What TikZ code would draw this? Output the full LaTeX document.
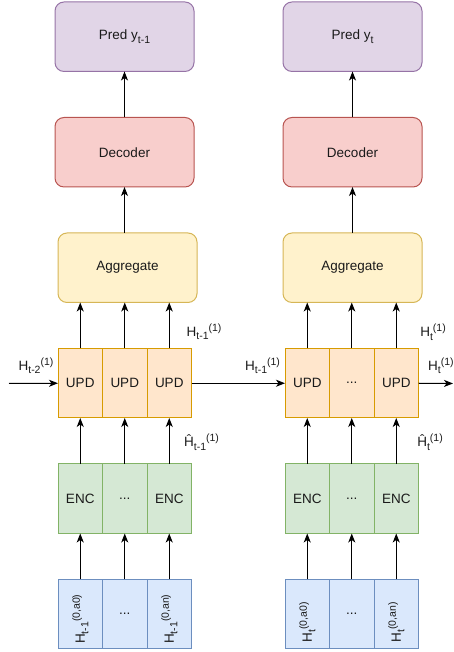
\documentclass[tikz,border=0pt]{standalone}
\usepackage{fontspec}
\setmainfont{Liberation Sans}
\usepackage{tikz}
\usetikzlibrary{positioning, arrows.meta}
\definecolor{predFill}{HTML}{E1D5E7}
\definecolor{predLine}{HTML}{9673A6}
\definecolor{decFill}{HTML}{F8CECC}
\definecolor{decLine}{HTML}{B85450}
\definecolor{aggFill}{HTML}{FFF2CC}
\definecolor{aggLine}{HTML}{D6B656}
\definecolor{updFill}{HTML}{FFE6CC}
\definecolor{updLine}{HTML}{D79B00}
\definecolor{encFill}{HTML}{D5E8D4}
\definecolor{encLine}{HTML}{82B366}
\definecolor{inFill}{HTML}{DAE8FC}
\definecolor{inLine}{HTML}{6C8EBF}
\definecolor{txt}{HTML}{1A1A1A}
\newcommand{\subtxt}[1]{\raisebox{-3.5pt}{\fontsize{10.5}{12}\selectfont #1}}
\newcommand{\suptxt}[1]{\raisebox{5pt}{\fontsize{10.5}{12}\selectfont #1}}
\tikzstyle{cell} = [rectangle, minimum width=44.5pt, minimum height=69.5pt, inner sep=0pt, outer sep=0pt, line width=1pt, text=txt, font=\fontsize{13.5}{16}\selectfont]
\tikzstyle{bigbox} = [rectangle, rounded corners=9pt, minimum width=139pt, minimum height=69.5pt, inner sep=0pt, outer sep=0pt, line width=1pt, text=txt, font=\fontsize{13.5}{16}\selectfont]
\tikzstyle{predbox} = [bigbox, fill=predFill, draw=predLine]
\tikzstyle{decbox} = [bigbox, fill=decFill, draw=decLine]
\tikzstyle{aggbox} = [bigbox, fill=aggFill, draw=aggLine]
\tikzstyle{updbox} = [cell, fill=updFill, draw=updLine]
\tikzstyle{encbox} = [cell, fill=encFill, draw=encLine]
\tikzstyle{inbox} = [cell, fill=inFill, draw=inLine]
\tikzstyle{lbl} = [inner sep=0pt, text=txt, font=\fontsize{13.5}{16}\selectfont]
\tikzstyle{arrow} = [line width=1pt, -{Stealth[length=9pt, width=7pt, inset=2.5pt]}]

\begin{document}
\begin{tikzpicture}[x=1pt, y=1pt, node distance=46pt]
\useasboundingbox (0,0) rectangle (453,652);
% step t-1
\node (inA1) [inbox] at (80.25,37.75) {\rotatebox{90}{H\subtxt{t-1}\suptxt{(0,a0)}\hspace{10pt}}\hspace{19pt}};
\node (inA2) [inbox, right=0pt of inA1] {...};
\node (inA3) [inbox, right=0pt of inA2] {\rotatebox{90}{H\subtxt{t-1}\suptxt{(0,an)}\hspace{10pt}}\hspace{19pt}};
\node (encA1) [encbox, above=of inA1] {ENC};
\node (encA2) [encbox, right=0pt of encA1] {...};
\node (encA3) [encbox, right=0pt of encA2] {ENC};
\node (updA1) [updbox, above=of encA1] {UPD};
\node (updA2) [updbox, right=0pt of updA1] {UPD};
\node (updA3) [updbox, right=0pt of updA2] {UPD};
\node (aggA) [aggbox, above=of updA2, xshift=2.75pt] {Aggregate};
\node (decA) [decbox, above=of aggA, xshift=-3pt] {Decoder};
\node (predA) [predbox, above=of decA] {Pred y\subtxt{t-1}};
% step t
\node (inB1) [inbox] at (307.25,37.75) {\rotatebox{90}{H\subtxt{t}\suptxt{(0,a0)}\hspace{16pt}}\hspace{9pt}};
\node (inB2) [inbox, right=0pt of inB1] {...};
\node (inB3) [inbox, right=0pt of inB2] {\rotatebox{90}{H\subtxt{t}\suptxt{(0,an)}\hspace{16pt}}\hspace{9pt}};
\node (encB1) [encbox, above=of inB1] {ENC};
\node (encB2) [encbox, right=0pt of encB1] {...};
\node (encB3) [encbox, right=0pt of encB2] {ENC};
\node (updB1) [updbox, above=of encB1] {UPD};
\node (updB2) [updbox, right=0pt of updB1] {...};
\node (updB3) [updbox, right=0pt of updB2] {UPD};
\node (aggB) [aggbox, above=of updB2, xshift=0.75pt] {Aggregate};
\node (decB) [decbox, above=of aggB] {Decoder};
\node (predB) [predbox, above=of decB] {Pred y\subtxt{t}};
% hidden states
\coordinate (hIn) at (9,268.5);
\coordinate (hOut) at (453,268.5);
\node (lblPrevA) [lbl] at (36,286.5) {H\subtxt{t-2}\suptxt{(1)}};
\node (lblOutA) [lbl] at (204,320.5) {H\subtxt{t-1}\suptxt{(1)}};
\node (lblPrevB) [lbl] at (262.5,286.5) {H\subtxt{t-1}\suptxt{(1)}};
\node (lblOutB) [lbl] at (433,320) {H\subtxt{t}\suptxt{(1)}};
\node (lblNextB) [lbl, anchor=west] at (428,286.5) {H\subtxt{t}\suptxt{(1)}};
\node (lblEncA) [lbl] at (201.5,210) {Ĥ\subtxt{t-1}\suptxt{(1)}};
\node (lblEncB) [lbl] at (430,210) {Ĥ\subtxt{t}\suptxt{(1)}};
% arrows
\foreach \col in {A,B} {
  \foreach \i in {1,2,3} {
    \draw [arrow] (in\col\i.north) -- (enc\col\i.south);
    \draw [arrow] (enc\col\i.north) -- (upd\col\i.south);
    \draw [arrow] (upd\col\i.north) -- (upd\col\i.north |- agg\col.south);
  }
  \draw [arrow] (dec\col.south |- agg\col.north) -- (dec\col.south);
  \draw [arrow] (dec\col.north) -- (pred\col.south);
}
\draw [arrow] (hIn) -- (updA1.west);
\draw [arrow] (updA3.east) -- (updB1.west);
\draw [arrow] (updB3.east) -- (hOut);
\end{tikzpicture}
\end{document}
